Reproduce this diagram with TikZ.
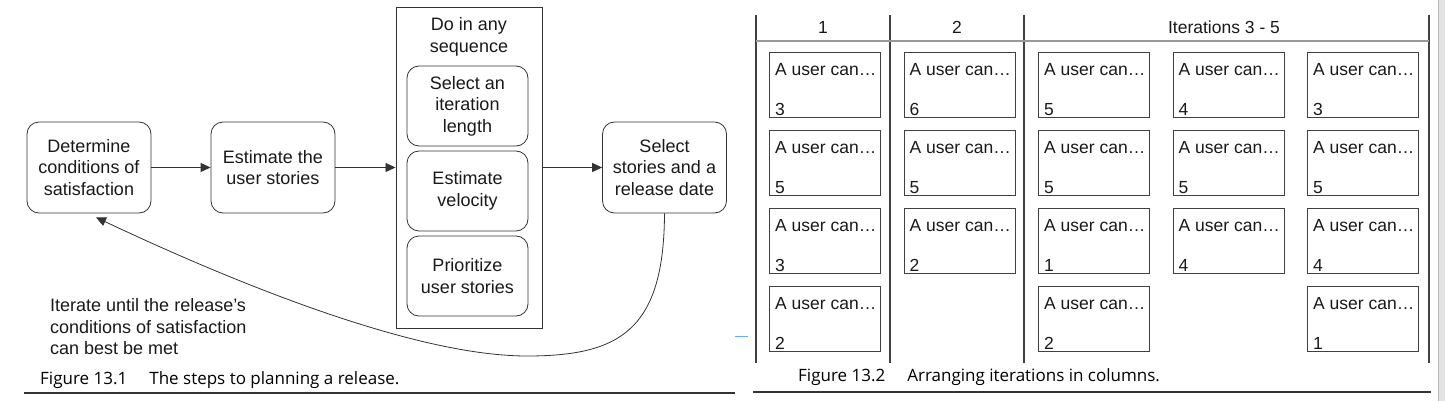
\documentclass[tikz,border=0pt]{standalone}
\usepackage{fontspec}
\setmainfont{Liberation Sans}
\newfontfamily\captionfont{Open Sans}
\usetikzlibrary{arrows.meta}

% one story card: name, column, row, points
\newcommand{\storycard}[4]{
    \node[card,
        label={[cardtop,anchor=north west]north west:A user can…},
        label={[cardpoints,anchor=south west]south west:#4}]
        (#1) at ({825+(#2-1)*134.5},{85+(#3-1)*78}) {};
}

\tikzset{
    every node/.style={font=\fontsize{18}{21.5}\selectfont, text=black!90},
    stepbox/.style={draw=black!80, line width=0.8pt, rounded corners=12pt,
        align=center, minimum width=124pt, minimum height=91pt, inner sep=0pt},
    substep/.style={stepbox, minimum width=121pt, minimum height=80pt},
    groupbox/.style={draw=black!80, line width=0.9pt, minimum width=146pt,
        minimum height=321pt, inner sep=0pt},
    flow/.style={draw=black!80, line width=0.8pt, -{Triangle[length=10pt,width=9pt]}},
    card/.style={draw=black!75, line width=1pt, minimum width=111pt,
        minimum height=65pt, inner sep=0pt},
    cardtop/.style={inner xsep=6pt, inner ysep=11pt, font=\fontsize{17.5}{20}\selectfont},
    cardpoints/.style={inner xsep=6pt, inner ysep=2pt, font=\fontsize{17.5}{20}\selectfont},
    header/.style={font=\fontsize{17.5}{20}\selectfont},
    captiontext/.style={inner sep=0pt, font=\captionfont\fontsize{17}{20}\selectfont, text=black},
    rule/.style={draw=black!80, line width=1.5pt},
}

\begin{document}
\begin{tikzpicture}[x=1pt, y=-1pt]
                \useasboundingbox (0,0) rectangle (1445,401);

                % Figure 13.1: the release planning steps
                \node[stepbox] (determine) at (89,167.5) {Determine\\conditions of\\satisfaction};
                \node[stepbox] (estimate) at (273,167.5) {Estimate the\\user stories};
                \node[groupbox] (anyorder) at (469,167.5) {};
                \node[align=center, inner sep=0pt] (anyordertitle) at (469,37) {Do in any\\sequence};
                \node[substep] (length) at (467.5,106) {Select an\\iteration\\length};
                \node[substep] (velocity) at (467.5,191) {Estimate\\velocity};
                \node[substep] (prioritize) at (467.5,276) {Prioritize\\user stories};
                \node[stepbox] (select) at (664.5,167.5) {Select\\stories and a\\release date};

                \draw[flow] (determine) -- (estimate);
                \draw[flow] (estimate) -- (anyorder);
                \draw[flow] (anyorder) -- (select);

                % going round again
                \coordinate (loopbottom) at (527,356);
                \draw[flow] (select.south) .. controls (664,330) and (620,356) .. (loopbottom)
                    .. controls (420,356) and (250,290) .. ([xshift=7pt,yshift=-4pt]determine.south);
                \node[anchor=west, align=left, inner sep=0pt] (iterate) at (50,327)
                    {Iterate until the release’s\\conditions of satisfaction\\can best be met};

                \node[captiontext, anchor=west] (caption1) at (40,380)
                    {Figure 13.1\hspace{1.3em}The steps to planning a release.};
                \draw[rule] (24,393) -- (735,393);
                \draw[cyan!70!blue!60, line width=0.8pt] (735,336) -- (748,336);

                % Figure 13.2: iterations in columns
                \foreach \x in {756,890,1024,1429}{
                    \draw[black!75, line width=1.2pt] (\x,15) -- (\x,363);
                }
                \draw[black!40, line width=1.8pt] (756,41) -- (1429,41);
                \node[header] (iter1) at (823,27) {1};
                \node[header] (iter2) at (957,27) {2};
                \node[header] (iter35) at (1224,27) {Iterations 3 - 5};

                \foreach \col/\row/\pts in {1/1/3, 1/2/5, 1/3/3, 1/4/2,
                                            2/1/6, 2/2/5, 2/3/2,
                                            3/1/5, 3/2/5, 3/3/1, 3/4/2,
                                            4/1/4, 4/2/5, 4/3/4,
                                            5/1/3, 5/2/5, 5/3/4, 5/4/1}{
                    \storycard{card\col\row}{\col}{\row}{\pts}
                }

                \node[captiontext, anchor=west] (caption2) at (798,377)
                    {Figure 13.2\hspace{1.3em}Arranging iterations in columns.};
                \draw[rule] (753,392) -- (1431,392);

                % edge of the page
                \fill[gray!22] (1438,0) rectangle (1445,401);
                \draw[gray!55] (1438,0) -- (1438,401);
\end{tikzpicture}
\end{document}
